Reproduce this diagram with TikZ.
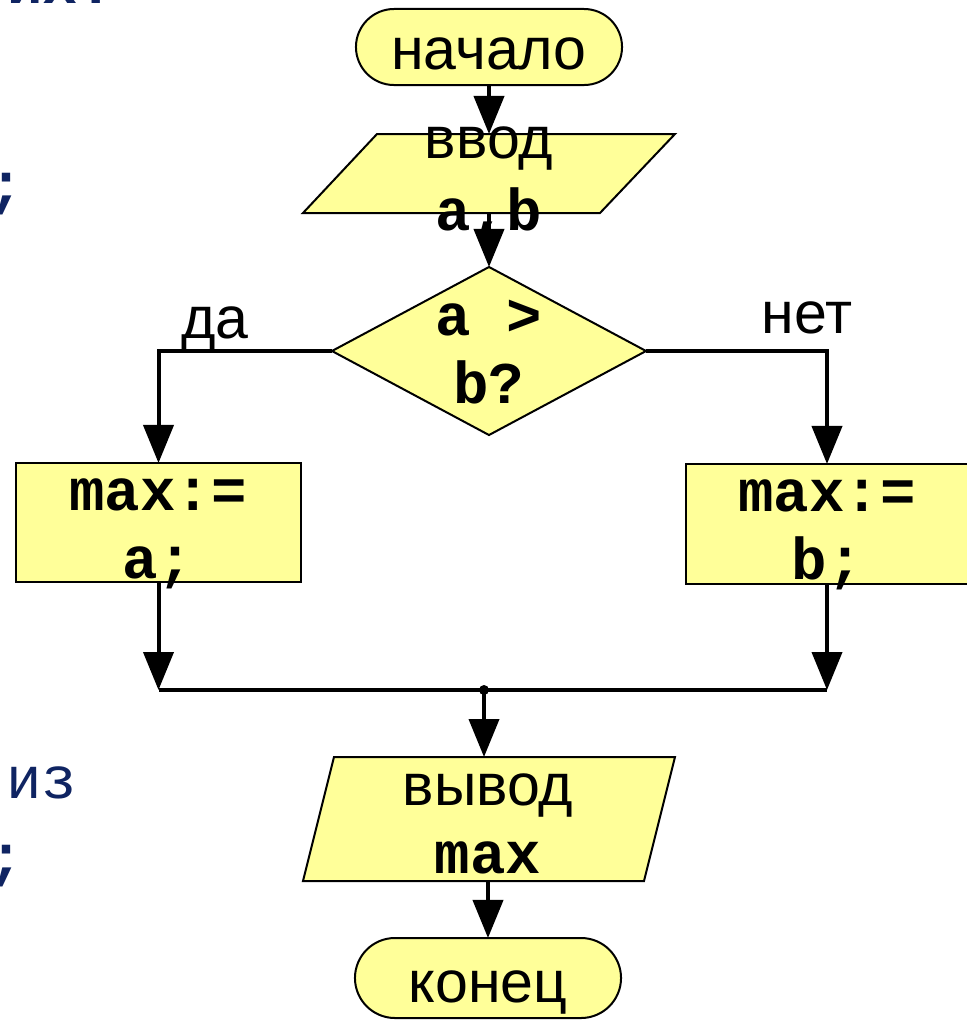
\documentclass[tikz,border=0pt]{standalone}
\usepackage{fontspec}
\setmainfont{Liberation Sans}
\setmonofont{Liberation Mono}
\usetikzlibrary{shapes.geometric,shapes.misc,arrows.meta}
\definecolor{fillc}{HTML}{FFFF99}
\definecolor{navy}{HTML}{0F2462}
\tikzset{
  shp/.style={draw=black, line width=0.05cm, fill=fillc, inner sep=0pt, outer sep=0pt},
  term/.style={shp, rounded rectangle, minimum width=6.65cm, minimum height=1.9cm},
  proc/.style={shp, rectangle},
  decision/.style={shp, diamond, minimum width=7.85cm, minimum height=4.2cm},
  arr/.style={line width=0.1cm, -{Triangle[length=9.5mm,width=7.5mm]}},
  wire/.style={line width=0.1cm},
  lab/.style={anchor=base, align=center, inner sep=0pt, font=\fontsize{42}{48}\selectfont},
  code/.style={lab, font=\fontsize{42}{48}\selectfont\ttfamily\bfseries},
  frag/.style={anchor=base west, inner sep=0pt, text=navy, font=\fontsize{42}{48}\selectfont\ttfamily},
  fragb/.style={frag, font=\fontsize{42}{48}\selectfont\ttfamily\bfseries},
}
\begin{document}
\begin{tikzpicture}[x=0.025cm, y=-0.025cm]
  \useasboundingbox (0,0) rectangle (967,1021);
  % blocks
  \node[term] (start) at (489,47) {};
  \draw[shp] (377,134) -- (675,134) -- (600,213) -- (303,213) -- cycle;
  \coordinate (inp-n) at (489,134);
  \coordinate (inp-s) at (489,213);
  \node[decision] (cond) at (489,351) {};
  \node[proc, minimum width=7.125cm, minimum height=2.975cm] (yes) at (158.5,522.5) {};
  \node[proc, minimum width=7.05cm, minimum height=3cm] (no) at (827,524) {};
  \draw[shp] (334,757) -- (675,757) -- (644,881) -- (303,881) -- cycle;
  \coordinate (outp-n) at (484,757);
  \coordinate (outp-s) at (488,881);
  \node[term, minimum height=2cm] (stop) at (488,978) {};
  % texts (base = last line)
  \node[lab] (startT) at (489,69) {начало};
  \node[lab, font=\fontsize{42}{51}\selectfont] (inpT) at (489,230) {ввод\\{\ttfamily\bfseries a,b}};
  \node[code] (condT) at (489,403) {a >\\b?};
  \node[code] (yesT) at (158,578) {max:=\\a;};
  \node[code] (noT) at (827,579) {max:=\\b;};
  \node[lab] (outpT) at (488,873) {вывод\\{\ttfamily\bfseries max}};
  \node[lab] (stopT) at (488,1002) {конец};
  \node[lab] (yesL) at (215,338) {да};
  \node[lab] (noL) at (807,333) {нет};
  % cut-off slide text at the left edge
  \node[fragb] (fragA) at (7,3) {их:};
  \node[fragb] (fragB) at (-12,204) {;};
  \node[frag] (fragC) at (6,798) {из};
  \node[fragb] (fragD) at (-12,876) {;};
  % connectors
  \foreach \a/\b in {start/inp-n,inp-s/cond,outp-s/stop}
    \draw[arr] (\a) -- (\b);
  \draw[arr] (cond.west) -| (yes.north);
  \draw[arr] (cond.east) -| (no.north);
  \coordinate (join) at (484,690);
  \coordinate (jl) at (yes.south |- join);
  \coordinate (jr) at (no.south |- join);
  \draw[arr] (yes) -- (jl);
  \draw[arr] (no) -- (jr);
  \draw[wire] (jl) -- (jr);
  \fill (join) circle[radius=5];
  \draw[arr] (join) -- (outp-n);
\end{tikzpicture}
\end{document}
